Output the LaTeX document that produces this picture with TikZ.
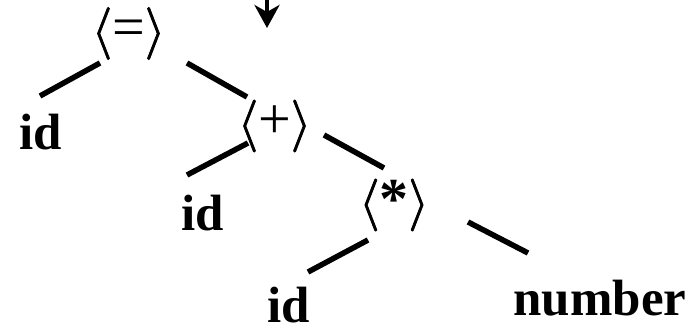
\documentclass[tikz,border=0pt]{standalone}
\usepackage{fontspec}
\setmainfont{Liberation Serif}
\newfontfamily\brkfont[FakeBold=1.6]{Latin Modern Math}
\usetikzlibrary{positioning, arrows.meta}

% angle brackets round a nonterminal
\newcommand{\brsize}{\brkfont\fontsize{52}{56}\selectfont}
\newcommand{\nterm}[1]{{\brsize ⟨}{\fontsize{58}{60}\selectfont #1}{\brsize ⟩}}

\begin{document}
\begin{tikzpicture}[x=1pt, y=1pt, on grid,
    every node/.style={inner sep=0pt, font=\fontsize{51}{61}\selectfont},
    leaf/.style={font=\fontsize{51}{61}\selectfont\bfseries},
    branch/.style={line width=5.5pt}]
    \useasboundingbox (-128.5,33.5) rectangle (566.5,-297.5);

    % Nodes
    \node (eq) at (0,0) {\nterm{=}};
    \node [leaf, below left=99pt and 87.5pt of eq] (idA) {id};
    \node [below right=92.5pt and 146pt of eq] (plus) {\nterm{+}};
    \node [leaf, below left=87.5pt and 71.5pt of plus] (idB) {id};
    \node [below right=79pt and 119.5pt of plus] (star) {\nterm{\textbf{*}}};
    \node [leaf, below left=100pt and 105pt of star] (idC) {id};
    \node [leaf, below right=93.5pt and 206pt of star] (num) {number};

    % Incoming arrow
    \coordinate (in) at (138.5,33.5);
    \coordinate (inTip) at (138.5,5.5);
    \draw[line width=4pt, -{Stealth[length=23pt, width=25pt, inset=7pt]}] (in) -- (inTip);

    % Branches
    \draw[branch] ([shift={(-28.5,-29.5)}]eq.center) -- ([shift={(-1,36.5)}]idA.center);
    \draw[branch] ([shift={(58.5,-29.5)}]eq.center) -- ([shift={(-27.5,29)}]plus.center);
    \draw[branch] ([shift={(-26.5,-17)}]plus.center) -- ([shift={(-16,38.5)}]idB.center);
    \draw[branch] ([shift={(49.5,-9)}]plus.center) -- ([shift={(-10,37)}]star.center);
    \draw[branch] ([shift={(-26,-35)}]star.center) -- ([shift={(19,33)}]idC.center);
    \draw[branch] ([shift={(74,-17)}]star.center) -- ([shift={(-72,45.5)}]num.center);
\end{tikzpicture}
\end{document}
